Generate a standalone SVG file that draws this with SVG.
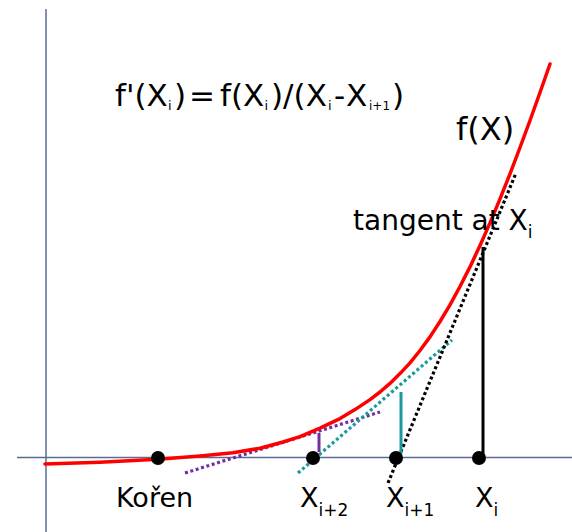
<svg xmlns="http://www.w3.org/2000/svg" width="572" height="532" viewBox="0 0 572 532">
<style>
.axis{stroke:#5b6b94;stroke-width:1.5;fill:none}
.curve{stroke:#ff0000;stroke-width:3.5;fill:none;stroke-linecap:round;stroke-linejoin:round}
.dot{fill:#000}
.lbl{font-family:"DejaVu Sans","Liberation Sans",sans-serif;fill:#000}
.dotted{fill:none;stroke-width:3.2;stroke-dasharray:3 2.6}
</style>
<rect width="572" height="532" fill="#fff"/>
<g id="axes">
<line class="axis" x1="46" y1="9" x2="46" y2="532"/>
<line class="axis" x1="17" y1="457.5" x2="572" y2="457.5"/>
</g>
<g id="connectors">
<line class="dotted" stroke="#7030a0" x1="185" y1="473" x2="380" y2="412"/>
<line class="dotted" stroke="#1a9a9a" x1="298" y1="473" x2="452" y2="340"/>
<line class="dotted" stroke="#000" x1="388" y1="483" x2="516" y2="173"/>
<line stroke="#7030a0" stroke-width="3" x1="319" y1="433" x2="319" y2="452"/>
<line stroke="#1a9a9a" stroke-width="3" x1="401" y1="392" x2="401" y2="454"/>
<line stroke="#000" stroke-width="3" x1="483" y1="247" x2="483" y2="457"/>
</g>
<g id="fx">
<path class="curve" d="M45,464 L100,462.2 L158,459.2 L200,456 L233,452.8 L260,448.2 L283,442 L300,436.6 L320,428.2 L340,418.6 L355,409.6 L370,399.6 L380,392 L390,383.4 L400,373.6 L410,362.9 L420,350.5 L430,336.9 L440,321.5 L450,304.9 L460,286.5 L470,266.9 L480,245.5 L490,222.9 L500,198.8 L510,173.9 L520,147.5 L530,120.5 L540,92.5 L550,64"/>
<text class="lbl" x="456" y="140" font-size="32">f(X)</text>
</g>
<g id="koren">
<circle class="dot" cx="158" cy="458" r="7"/>
<text class="lbl" x="116" y="507" font-size="27">Kořen</text>
</g>
<g id="xi2">
<circle class="dot" cx="313" cy="458" r="7"/>
<text class="lbl" x="300" y="507" font-size="27">X<tspan font-size="17" dy="9">i+2</tspan></text>
</g>
<g id="xi1">
<circle class="dot" cx="396" cy="458" r="7"/>
<text class="lbl" x="386" y="507" font-size="27">X<tspan font-size="17" dy="9">i+1</tspan></text>
</g>
<g id="xi">
<circle class="dot" cx="479" cy="458" r="7"/>
<text class="lbl" x="475" y="507" font-size="27">X<tspan font-size="17" dy="9">i</tspan></text>
</g>
<g id="tangent">
<text class="lbl" x="353" y="230" font-size="28">tangent at X<tspan font-size="17" dy="8">i</tspan></text>
</g>
<g id="formula">
<text class="lbl" y="106" font-size="31"><tspan x="115">f'(X</tspan><tspan x="168" dy="4" font-size="13">i</tspan><tspan x="174" dy="-4">)</tspan><tspan x="189">=</tspan><tspan x="220">f(X</tspan><tspan x="264.5" dy="4" font-size="13">i</tspan><tspan x="271" dy="-4">)/(X</tspan><tspan x="328" dy="4" font-size="13">i</tspan><tspan x="334" dy="-4">-</tspan><tspan x="346">X</tspan><tspan x="369" dy="4" font-size="12">i+1</tspan><tspan x="392" dy="-4">)</tspan></text>
</g>
</svg>
